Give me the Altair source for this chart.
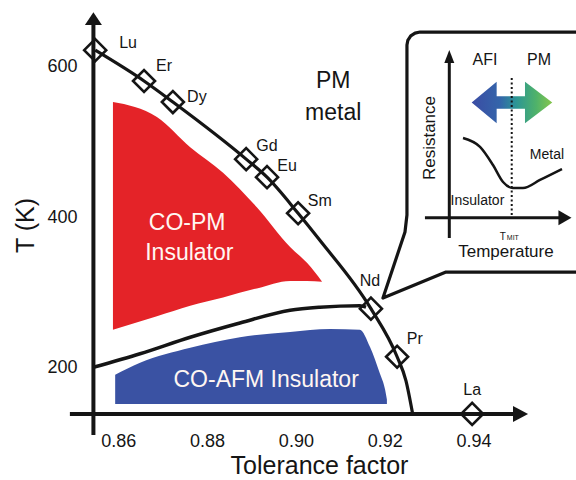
import altair as alt
import pandas as pd

# ---------------- main phase diagram: tolerance factor vs T (K) ----------------
elements       = ["Lu", "Er", "Dy", "Gd", "Eu", "Sm", "Nd", "Pr", "La"]
elem_tol       = [0.8548, 0.8658, 0.8723, 0.8888, 0.8935, 0.9005, 0.9169, 0.9228, 0.9397]
elem_T         = [622, 581, 553, 477, 453, 405, 278, 214, 138]
elem_label_tol = [0.8622, 0.8703, 0.8777, 0.8935, 0.8980, 0.9054, 0.9167, 0.9268, 0.9397]
elem_label_T   = [632, 601, 560, 495, 468, 421, 315, 238, 170]

# upper boundary (T_MI / T_CO)
tco_tol = [0.8548, 0.8658, 0.8723, 0.8888, 0.8935, 0.9005, 0.9054, 0.9169, 0.9228, 0.9248, 0.9263]
tco_T   = [622, 581, 553, 477, 453, 405, 369, 278, 214, 182, 138]

# lower boundary (T_N)
tn_tol = [0.8544, 0.8649, 0.8762, 0.8874, 0.8987, 0.9054, 0.9144, 0.9158]
tn_T   = [200, 218, 240, 259, 276, 280, 282, 280]

# CO-PM insulator region
copm_tol    = [0.8588, 0.8687, 0.8762, 0.8836, 0.8912, 0.8987, 0.9025, 0.9059]
copm_top    = [553, 533, 493, 459, 413, 360, 339, 314]
copm_bottom = [250, 268, 282, 293, 305, 315, 315, 314]

# CO-AFM insulator region
coafm_tol    = [0.8593, 0.8649, 0.8762, 0.8874, 0.8987, 0.9077, 0.9144, 0.9167, 0.9189, 0.9201, 0.9205]
coafm_top    = [190, 206, 226, 240, 247, 251, 250, 227, 192, 170, 157]
coafm_bottom = [151, 151, 151, 151, 151, 151, 151, 151, 151, 151, 151]

phase_names = ["PM", "metal"]
phase_tol   = [0.9084, 0.9084]
phase_T     = [572, 529]

region_names = ["CO-PM", "Insulator", "CO-AFM Insulator"]
region_tol   = [0.8755, 0.8760, 0.8933]
region_T     = [383, 343, 174]

x_ticks = [0.86, 0.88, 0.90, 0.92, 0.94]
y_ticks = [200, 400, 600]

# arrow axes of the diagram
x_axis_tol = [0.8491, 0.9491]
x_axis_T = 138
x_arrow_tol = 0.9506
y_axis_tol = 0.8544
y_axis_T = [110, 657]
y_arrow_T = 664

# ---------------- inset: resistance vs temperature (arbitrary units) ----------------
inset_temp = [1.12, 2.51, 3.57, 4.39, 5.20, 6.02, 7.41, 9.21]
inset_res  = [4.75, 4.22, 3.14, 2.13, 1.77, 1.77, 2.25, 2.90]
t_mit = 5.10
t_mit_res = [0.16, 8.33]

dbl_arrow_x = 5.12
dbl_arrow_y = 6.87

# callout box outline (inset units)
box_x = [12.0, -2.39, -2.80, -3.15, -3.39, -3.46, -3.46, -3.62, -5.42, -0.27, 12.0]
box_y = [11.07, 11.07, 11.01, 10.84, 10.57, 10.30, 0.16, -0.85, -4.79, -3.24, -3.24]

inset_axis_temp = [-1.99, 9.04]
inset_axis_res = [-1.21, 9.40]

inset_words = ["AFI", "PM", "Metal", "Insulator"]
inset_words_x = [2.92, 7.33, 7.98, 2.30]
inset_words_y = [9.40, 9.40, 3.74, 1.00]

FONT = "Liberation Sans"
INK = "#151515"

# ---------------- scales / axes ----------------
xs = alt.Scale(domain=[0.83336, 0.96309], nice=False, zero=False)
ys = alt.Scale(domain=[50.0, 688.8], nice=False, zero=False)
xaxis = alt.Axis(values=x_ticks, format=".2f", title="Tolerance factor", grid=False,
                 domain=False, ticks=False, tickSize=0, labelPadding=2, offset=-50,
                 labelFont=FONT, labelFontSize=18, labelColor=INK, labelFlush=False,
                 labelOverlap=False, titleFont=FONT, titleFontSize=25,
                 titleFontWeight="normal", titleColor=INK, titleX=319, titleY=43.5,
                 titleBaseline="alphabetic", titleAlign="center")
yaxis = alt.Axis(values=y_ticks, format="d", title="T (K)", grid=False,
                 domain=False, ticks=False, tickSize=0, labelPadding=3, offset=-80,
                 labelFont=FONT, labelFontSize=18, labelColor=INK, labelFlush=False,
                 labelOverlap=False, titleFont=FONT, titleFontSize=25,
                 titleFontWeight="normal", titleColor=INK, titleX=-55, titleY=225,
                 titleAngle=270, titleBaseline="middle", titleAlign="center")


def X(f):
    return alt.X(f, type="quantitative", scale=xs, axis=xaxis)


def Y(f):
    return alt.Y(f, type="quantitative", scale=ys, axis=yaxis)


isx = alt.Scale(domain=[0, 10], range=[449.3, 571.7], nice=False, zero=False)
isy = alt.Scale(domain=[0, 10], range=[217.7, 50.0], nice=False, zero=False)


def IX(f):
    return alt.X(f, type="quantitative", scale=isx, axis=None)


def IY(f):
    return alt.Y(f, type="quantitative", scale=isy, axis=None)


# ---------------- main layers ----------------
copm_df = pd.DataFrame({"t": copm_tol, "top": copm_top, "bot": copm_bottom})
coafm_df = pd.DataFrame({"t": coafm_tol, "top": coafm_top, "bot": coafm_bottom})
tco_df = pd.DataFrame({"t": tco_tol, "T": tco_T})
tn_df = pd.DataFrame({"t": tn_tol, "T": tn_T})
el_df = pd.DataFrame({"el": elements, "t": elem_tol, "T": elem_T,
                      "lt": elem_label_tol, "lT": elem_label_T})

red = alt.Chart(copm_df).mark_area(color="#e42328", interpolate="monotone").encode(
    x=X("t"), y=Y("top"), y2="bot")
blue = alt.Chart(coafm_df).mark_area(color="#3a52a3", interpolate="monotone").encode(
    x=X("t"), y=Y("top"), y2="bot")
tco = alt.Chart(tco_df).mark_line(color=INK, strokeWidth=3.2, interpolate="monotone").encode(
    x=X("t"), y=Y("T"))
tn = alt.Chart(tn_df).mark_line(color=INK, strokeWidth=3.5, interpolate="monotone").encode(
    x=X("t"), y=Y("T"))
diam = alt.Chart(el_df).mark_point(shape="diamond", filled=False, size=484, strokeWidth=2.6,
                                   color=INK, opacity=1).encode(x=X("t"), y=Y("T"))
el_lab = alt.Chart(el_df).mark_text(font=FONT, fontSize=16, color=INK, align="center",
                                    baseline="middle").encode(x=X("lt"), y=Y("lT"), text="el")

xa_df = pd.DataFrame({"a": [x_axis_tol[0]], "b": [x_axis_tol[1]], "T": [x_axis_T]})
ya_df = pd.DataFrame({"t": [y_axis_tol], "a": [y_axis_T[0]], "b": [y_axis_T[1]]})
x_line = alt.Chart(xa_df).mark_rule(color=INK, strokeWidth=4).encode(
    x=X("a"), x2="b", y=Y("T"))
y_line = alt.Chart(ya_df).mark_rule(color=INK, strokeWidth=4).encode(
    x=X("t"), y=Y("a"), y2="b")
xh = alt.Chart(pd.DataFrame({"t": [x_arrow_tol], "T": [x_axis_T]})).mark_point(
    shape="M-0.94,-1L0.94,0L-0.94,1Z", filled=True, size=256, color=INK, opacity=1,
    strokeWidth=0).encode(x=X("t"), y=Y("T"))
yh = alt.Chart(pd.DataFrame({"t": [y_axis_tol], "T": [y_arrow_T]})).mark_point(
    shape="M-1,0.76L0,-0.76L1,0.76Z", filled=True, size=289, color=INK, opacity=1,
    strokeWidth=0).encode(x=X("t"), y=Y("T"))

ph = alt.Chart(pd.DataFrame({"s": phase_names, "t": phase_tol, "T": phase_T})).mark_text(
    font=FONT, fontSize=23, color=INK, align="center", baseline="alphabetic").encode(
    x=X("t"), y=Y("T"), text="s")
rg = alt.Chart(pd.DataFrame({"s": region_names, "t": region_tol, "T": region_T})).mark_text(
    font=FONT, fontSize=23, color="#fff6f2", align="center", baseline="alphabetic").encode(
    x=X("t"), y=Y("T"), text="s")

main = alt.layer(red, blue, tn, tco, diam, el_lab, x_line, y_line, xh, yh, ph, rg)

# ---------------- inset layers ----------------
box = alt.Chart(pd.DataFrame({"x": box_x, "y": box_y, "i": list(range(len(box_x)))})).mark_line(
    color=INK, strokeWidth=3.2, strokeJoin="round").encode(x=IX("x"), y=IY("y"), order="i:Q")
ix_line = alt.Chart(pd.DataFrame({"a": [inset_axis_temp[0]], "b": [inset_axis_temp[1]], "y": [0]})).mark_rule(
    color=INK, strokeWidth=3).encode(x=IX("a"), x2="b", y=IY("y"))
iy_line = alt.Chart(pd.DataFrame({"x": [0], "a": [inset_axis_res[0]], "b": [inset_axis_res[1]]})).mark_rule(
    color=INK, strokeWidth=3).encode(x=IX("x"), y=IY("a"), y2="b")
ixh = alt.Chart(pd.DataFrame({"x": [9.45], "y": [0]})).mark_point(
    shape="M-0.87,-1L0.87,0L-0.87,1Z", filled=True, size=225, color=INK, opacity=1,
    strokeWidth=0).encode(x=IX("x"), y=IY("y"))
iyh = alt.Chart(pd.DataFrame({"x": [0], "y": [9.61]})).mark_point(
    shape="M-0.77,1L0,-1L0.77,1Z", filled=True, size=169, color=INK, opacity=1,
    strokeWidth=0).encode(x=IX("x"), y=IY("y"))
mit = alt.Chart(pd.DataFrame({"x": [t_mit], "a": [t_mit_res[0]], "b": [t_mit_res[1]]})).mark_rule(
    color=INK, strokeWidth=2, strokeDash=[2, 2.5]).encode(x=IX("x"), y=IY("a"), y2="b")
grad = alt.Gradient(gradient="linear", x1=0, x2=1, y1=0, y2=0, stops=[
    alt.GradientStop(offset=0, color="#3b4ca4"),
    alt.GradientStop(offset=0.35, color="#3465aa"),
    alt.GradientStop(offset=0.55, color="#2c9595"),
    alt.GradientStop(offset=0.8, color="#4fb26a"),
    alt.GradientStop(offset=1, color="#86c64c")])
DBL_PATH = ("M-1,0L-0.38,-0.516L-0.38,-0.156L0.323,-0.156L0.323,-0.516L1,0"
            "L0.323,0.516L0.323,0.156L-0.38,0.156L-0.38,0.516Z")
dbl = alt.Chart(pd.DataFrame({"x": [dbl_arrow_x], "y": [dbl_arrow_y]})).mark_point(
    shape=DBL_PATH, filled=True, fill=grad, size=6496, opacity=1, strokeWidth=0).encode(
    x=IX("x"), y=IY("y"))
rcurve = alt.Chart(pd.DataFrame({"x": inset_temp, "y": inset_res})).mark_line(
    color=INK, strokeWidth=2.5, interpolate="monotone").encode(x=IX("x"), y=IY("y"))
words_df = pd.DataFrame({"s": inset_words, "x": inset_words_x, "y": inset_words_y})
words_big = alt.Chart(words_df.iloc[:2]).mark_text(font=FONT, fontSize=16, color=INK,
                                                   align="center", baseline="middle").encode(
    x=IX("x"), y=IY("y"), text="s")
words_small = alt.Chart(words_df.iloc[2:]).mark_text(font=FONT, fontSize=14, color=INK,
                                                     align="center", baseline="middle").encode(
    x=IX("x"), y=IY("y"), text="s")
res_t = alt.Chart(pd.DataFrame({"s": ["Resistance"], "x": [-1.58], "y": [4.75]})).mark_text(
    font=FONT, fontSize=17, color=INK, align="center", baseline="middle", angle=270).encode(
    x=IX("x"), y=IY("y"), text="s")
temp_t = alt.Chart(pd.DataFrame({"s": ["Temperature"], "x": [4.63], "y": [-2.36]})).mark_text(
    font=FONT, fontSize=17, color=INK, align="center", baseline="alphabetic").encode(
    x=IX("x"), y=IY("y"), text="s")
tm1 = alt.Chart(pd.DataFrame({"s": ["T"], "x": [4.12], "y": [-1.30]})).mark_text(
    font=FONT, fontSize=10, color=INK, align="left", baseline="alphabetic").encode(
    x=IX("x"), y=IY("y"), text="s")
tm2 = alt.Chart(pd.DataFrame({"s": ["MIT"], "x": [4.70], "y": [-1.30]})).mark_text(
    font=FONT, fontSize=7, color=INK, align="left", baseline="alphabetic").encode(
    x=IX("x"), y=IY("y"), text="s")

inset = alt.layer(box, ix_line, iy_line, ixh, iyh, dbl, mit, rcurve, words_big, words_small,
                  res_t, temp_t, tm1, tm2)

chart = alt.layer(main, inset).resolve_scale(x="independent", y="independent").properties(
    width=576, height=480, autosize=alt.AutoSizeParams(type="none"), padding=0,
    background="white").configure_view(stroke=None)

chart.save("out.html", embed_options={"renderer": "svg", "actions": False})
